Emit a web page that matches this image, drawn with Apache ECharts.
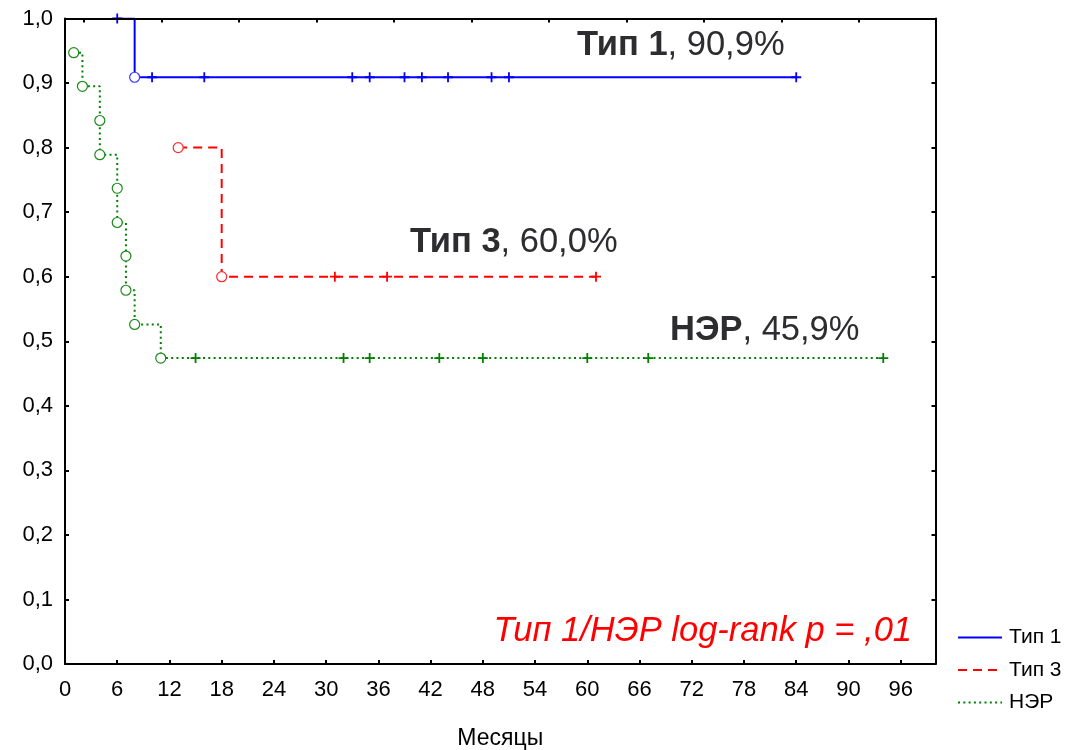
<!DOCTYPE html>
<html>
<head>
<meta charset="utf-8">
<title>Выживаемость по типам</title>
<script src="https://cdn.jsdelivr.net/npm/echarts@6/dist/echarts.min.js"></script>
<style>
  html, body { margin: 0; padding: 0; background: #fff; }
  #chart { width: 1074px; height: 750px; }
</style>
</head>
<body>
<div id="chart"></div>
<script>
// Kaplan–Meier step curves: months and survival level at each step
const type1Months = [6, 8, 84];
const type1Surv   = [1.0, 0.909, 0.909];
const type1EventMonths = [8];
const type1EventSurv   = [0.909];
const type1CensorMonths = [6, 10, 16, 33, 35, 39, 41, 44, 49, 51, 84];
const type1CensorSurv   = [1.0, 0.909, 0.909, 0.909, 0.909, 0.909, 0.909, 0.909, 0.909, 0.909, 0.909];

const type3Months = [13, 18, 61];
const type3Surv   = [0.8, 0.6, 0.6];
const type3EventMonths = [13, 18];
const type3EventSurv   = [0.8, 0.6];
const type3CensorMonths = [31, 37, 61];
const type3CensorSurv   = [0.6, 0.6, 0.6];

const nerMonths = [1, 2, 4, 4, 6, 6, 7, 7, 8, 11, 94];
const nerSurv   = [0.947, 0.895, 0.842, 0.789, 0.737, 0.684, 0.632, 0.579, 0.526, 0.474, 0.474];
const nerEventMonths = [1, 2, 4, 4, 6, 6, 7, 7, 8, 11];
const nerEventSurv   = [0.947, 0.895, 0.842, 0.789, 0.737, 0.684, 0.632, 0.579, 0.526, 0.474];
const nerCensorMonths = [15, 32, 35, 43, 48, 60, 67, 94];
const nerCensorSurv   = [0.474, 0.474, 0.474, 0.474, 0.474, 0.474, 0.474, 0.474];

const seriesNames = ['Тип 1', 'Тип 3', 'НЭР'];
const curveLabels = [
  { bold: 'Тип 1', rest: ', 90,9%' },
  { bold: 'Тип 3', rest: ', 60,0%' },
  { bold: 'НЭР',   rest: ', 45,9%' }
];
const testLabel = 'Тип 1/НЭР log-rank p = ,01';
const xAxisTitle = 'Месяцы';
// minor ticks along the upper frame (months)
const topFrameTicks = [2.2, 11.1, 20.0, 28.9, 37.8, 46.7, 55.6, 64.5, 73.4, 82.3, 91.2];

const FONT = '"Liberation Sans", Arial, sans-serif';
const BLUE = '#0000ff', RED = '#ff0000', GREEN = '#008000';
const PLUS = 'path://M0,5L10,5M5,0L5,10';

const zip = (a, b) => a.map((v, i) => [v, b[i]]);

function curve(name, xs, ys, color, type) {
  return {
    name, type: 'line', step: 'end', data: zip(xs, ys),
    symbol: 'none', showSymbol: false, z: 3,
    lineStyle: { color, width: 2, type },
    itemStyle: { color }
  };
}
function events(name, xs, ys, color) {
  return {
    name, type: 'scatter', data: zip(xs, ys), clip: false, z: 5,
    symbol: 'circle', symbolSize: 10,
    itemStyle: { color: '#ffffff', borderColor: color, borderWidth: 1.2, opacity: 1 }
  };
}
function censored(name, xs, ys, color) {
  return {
    name, type: 'scatter', data: zip(xs, ys), clip: false, z: 5,
    symbol: PLUS, symbolSize: 10,
    itemStyle: { color: 'rgba(0,0,0,0)', borderColor: color, borderWidth: 1.8, opacity: 1 }
  };
}

function richTitle(lbl, left, top) {
  return {
    text: '{b|' + lbl.bold + '}{r|' + lbl.rest + '}',
    left, top, padding: 0,
    textStyle: {
      rich: {
        b: { fontFamily: FONT, fontSize: 34.5, fontWeight: 'bold', color: '#2d2d30', lineHeight: 34 },
        r: { fontFamily: FONT, fontSize: 34.5, fontWeight: 'normal', color: '#2d2d30', lineHeight: 34 }
      }
    }
  };
}

const chart = echarts.init(document.getElementById('chart'), null, { renderer: 'canvas' });

const frameLine = { show: true, onZero: false, lineStyle: { color: '#000', width: 2 } };
const tickStyle = { color: '#000', width: 2 };

chart.setOption({
  animation: false,
  backgroundColor: '#ffffff',
  grid: { left: 65, right: 138.5, top: 18.5, bottom: 86, containLabel: false, outerBoundsMode: 'none' },
  title: [
    richTitle(curveLabels[0], 577, 28),
    richTitle(curveLabels[1], 410, 225),
    richTitle(curveLabels[2], 670, 313),
    {
      text: testLabel, right: 162, top: 614, padding: 0,
      textStyle: { fontFamily: FONT, fontSize: 34.5, fontStyle: 'italic', fontWeight: 'normal', color: '#ff0000', lineHeight: 34 }
    }
  ],
  legend: {
    data: seriesNames,
    orient: 'vertical',
    left: 952, top: 622,
    itemWidth: 44, itemHeight: 14, itemGap: 11.5,
    selectedMode: false,
    itemStyle: { opacity: 0 },
    textStyle: { fontFamily: FONT, fontSize: 21, color: '#000', lineHeight: 21, padding: [0, 0, 0, 2] }
  },
  xAxis: [
    {
      type: 'value', position: 'bottom', min: 0, max: 100, interval: 6,
      axisLine: frameLine,
      axisTick: { show: true, inside: true, length: 4, lineStyle: tickStyle },
      axisLabel: { show: true, showMaxLabel: false, margin: 15, fontFamily: FONT, fontSize: 22, color: '#000' },
      splitLine: { show: false },
      name: xAxisTitle, nameLocation: 'middle', nameGap: 63,
      nameTextStyle: { fontFamily: FONT, fontSize: 23, color: '#000' },
      z: 10
    },
    {
      type: 'value', position: 'top', min: 0, max: 100,
      axisLine: frameLine,
      axisTick: { show: true, inside: true, length: 4, lineStyle: tickStyle, customValues: topFrameTicks },
      axisLabel: { show: false },
      splitLine: { show: false },
      z: 10
    }
  ],
  yAxis: [
    {
      type: 'value', position: 'left', min: 0, max: 1, interval: 0.1,
      axisLine: frameLine,
      axisTick: { show: true, inside: true, length: 4, lineStyle: tickStyle },
      axisLabel: {
        show: true, margin: 12, fontFamily: FONT, fontSize: 22, color: '#000',
        formatter: v => v.toFixed(1).replace('.', ',')
      },
      splitLine: { show: false },
      z: 10
    },
    {
      type: 'value', position: 'right', min: 0, max: 1, interval: 0.1,
      axisLine: frameLine,
      axisTick: { show: true, inside: true, length: 4, lineStyle: tickStyle },
      axisLabel: { show: false },
      splitLine: { show: false },
      z: 10
    }
  ],
  series: [
    curve(seriesNames[0], type1Months, type1Surv, BLUE, 'solid'),
    curve(seriesNames[1], type3Months, type3Surv, RED, [9, 6]),
    curve(seriesNames[2], nerMonths, nerSurv, GREEN, [2, 3.3]),
    events('Тип 1 события', type1EventMonths, type1EventSurv, '#3a3aff'),
    events('Тип 3 события', type3EventMonths, type3EventSurv, '#ff2a2a'),
    events('НЭР события', nerEventMonths, nerEventSurv, '#1a8a1a'),
    censored('Тип 1 цензурировано', type1CensorMonths, type1CensorSurv, BLUE),
    censored('Тип 3 цензурировано', type3CensorMonths, type3CensorSurv, RED),
    censored('НЭР цензурировано', nerCensorMonths, nerCensorSurv, GREEN)
  ]
});
</script>
</body>
</html>
